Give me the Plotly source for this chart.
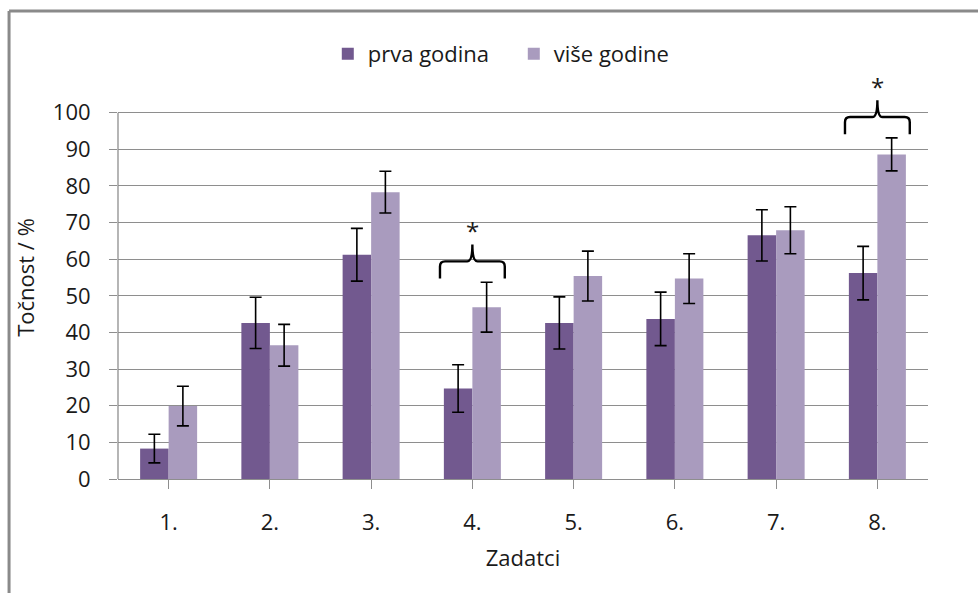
import plotly.graph_objects as go

categories = ["1.", "2.", "3.", "4.", "5.", "6.", "7.", "8."]
series_names = ["prva godina", "više godine"]
prva = [8.3, 42.6, 61.2, 24.7, 42.6, 43.7, 66.5, 56.2]
prva_err = [3.9, 7.0, 7.2, 6.5, 7.1, 7.3, 7.0, 7.3]
vise = [19.9, 36.5, 78.3, 46.9, 55.4, 54.7, 67.9, 88.6]
vise_err = [5.4, 5.7, 5.7, 6.8, 6.8, 6.8, 6.4, 4.5]
significant = ["4.", "8."]
y_ticks = [0, 10, 20, 30, 40, 50, 60, 70, 80, 90, 100]

FONT = "Open Sans"
TXT = "#1a1a1a"
GRID = "#8e8e8e"
DARK = "#72598f"
LIGHT = "#a99bbe"

xpos = list(range(len(categories)))

fig = go.Figure()
for name, vals, errs, col in [(series_names[0], prva, prva_err, DARK),
                              (series_names[1], vise, vise_err, LIGHT)]:
    fig.add_trace(go.Bar(
        x=xpos, y=vals, name=name, marker=dict(color=col, line=dict(width=0)),
        error_y=dict(type="data", array=errs, visible=True, color="black",
                     thickness=1.6, width=6),
    ))

# significance braces
shapes = []
annotations = []
for cat in significant:
    i = categories.index(cat)
    c = xpos[i]
    w = 0.32
    yb = max(prva[i] + prva_err[i], vise[i] + vise_err[i]) + 1.0
    yt = yb + 4.7
    yp = yt + 4.6
    dx = 0.05
    dy = 1.4
    path = (f"M {c-w},{yb} L {c-w},{yt-dy} Q {c-w},{yt} {c-w+dx},{yt} "
            f"L {c-dx},{yt} Q {c},{yt} {c},{yp} Q {c},{yt} {c+dx},{yt} "
            f"L {c+w-dx},{yt} Q {c+w},{yt} {c+w},{yt-dy} L {c+w},{yb}")
    shapes.append(dict(type="path", xref="x", yref="y", path=path,
                       line=dict(color="black", width=2.4)))
    annotations.append(dict(x=c, y=yp, xref="x", yref="y", text="*",
                            showarrow=False, yanchor="middle", yshift=14,
                            font=dict(family=FONT, size=24, color=TXT)))

# y axis line only from 0 to 100
shapes.append(dict(type="line", xref="paper", yref="y", x0=0, x1=0,
                   y0=0, y1=100, line=dict(color=GRID, width=1.3)))
# chart frame
shapes.append(dict(type="line", xref="paper", yref="paper",
                   x0=-0.1345, x1=-0.1345, y0=1.161, y1=-0.4,
                   line=dict(color="#8a8a8a", width=3)))
shapes.append(dict(type="line", xref="paper", yref="paper",
                   x0=-0.1345, x1=1.2, y0=1.161, y1=1.161,
                   line=dict(color="#8a8a8a", width=3)))

fig.update_layout(
    width=978, height=593,
    margin=dict(l=118, r=50, t=76, b=114),
    paper_bgcolor="white", plot_bgcolor="white",
    barmode="group", bargap=0.437, bargroupgap=0,
    font=dict(family=FONT, size=22, color=TXT),
    showlegend=True,
    legend=dict(orientation="h", x=0.259, xanchor="left", y=1.055,
                yanchor="middle", font=dict(family=FONT, size=22, color=TXT),
                entrywidth=141, entrywidthmode="pixels", bgcolor="rgba(0,0,0,0)"),
    shapes=shapes,
    annotations=annotations,
    xaxis=dict(
        tickmode="array", tickvals=xpos, ticktext=categories,
        range=[-0.5, len(categories) - 0.5],
        showline=True, linecolor=GRID, linewidth=1.3,
        ticks="outside", tickson="boundaries", ticklen=9, tickcolor=GRID,
        tickwidth=1.3, showgrid=False, zeroline=False,
        ticklabelstandoff=14,
        title=dict(text="Zadatci", standoff=16,
                   font=dict(family=FONT, size=22, color=TXT)),
    ),
    yaxis=dict(
        range=[0, 110], tickmode="array", tickvals=y_ticks,
        showline=False, ticks="outside", ticklen=8, tickcolor=GRID,
        tickwidth=1.3, showgrid=True, gridcolor=GRID, gridwidth=1.3,
        zeroline=False, ticklabelstandoff=14,
        title=dict(text="Točnost / %", standoff=12,
                   font=dict(family=FONT, size=22, color=TXT)),
    ),
)

fig.write_html("out.html", config={"displayModeBar": False},
               post_script="document.body.style.margin='0';")
